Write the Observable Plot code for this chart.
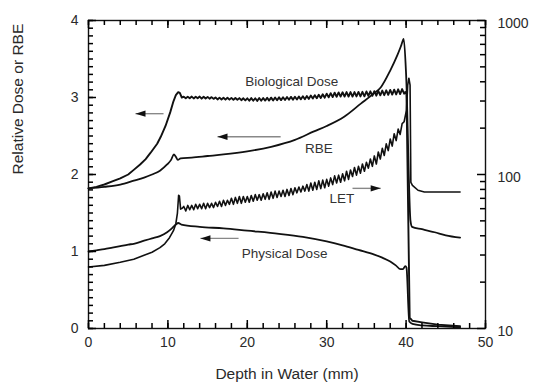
<!DOCTYPE html>
<html><head><meta charset="utf-8">
<script src="https://cdn.jsdelivr.net/npm/d3@7"></script>
<script src="https://cdn.jsdelivr.net/npm/@observablehq/plot@0.6"></script>
<style>html,body{margin:0;padding:0;background:#fff;}</style>
</head><body><div id="chart"></div>
<script>
// ---- axis ticks / labels ----
const xTicks = [0, 10, 20, 30, 40, 50];
const yTicks = [0, 1, 2, 3, 4];
const letTicks = [10, 100, 1000];
const letMinorTicks = [20, 30, 40, 50, 60, 70, 80, 90, 200, 300, 400, 500, 600, 700, 800, 900];
const xLabel = "Depth in Water (mm)";
const yLabel = "Relative Dose or RBE";

// ---- series: [depth (mm), value] ----
const physicalDose = [[0,1.0],[1,1.015],[2,1.03],[3,1.05],[4,1.07],[5,1.09],[5.7,1.1],[7,1.14],[8,1.17],[9,1.2],[9.9,1.25],[10.5,1.3],[11.0,1.35],[11.3,1.37],[11.7,1.35],[14,1.32],[17,1.3],[20,1.27],[24,1.23],[27,1.19],[30,1.13],[32,1.08],[34,1.02],[36,0.96],[37,0.92],[38,0.87],[38.7,0.82],[39.3,0.77],[39.6,0.77],[39.9,0.81],[40.05,0.79],[40.4,0.09],[40.8,0.06],[42,0.04],[44,0.03],[46.8,0.015]];

const biologicalDose = [[0,1.82],[1,1.84],[2,1.87],[3,1.91],[4,1.95],[5,2.0],[5.7,2.06],[6.5,2.13],[7.2,2.2],[7.8,2.28],[8.65,2.4],[9.1,2.49],[9.7,2.63],[10.3,2.81],[10.7,2.95],[11.0,3.03],[11.3,3.07],[11.5,3.06],[11.75,3.0],
[12,3.01],[12.25,2.99],[12.5,3.01],[12.75,2.99],[13,3.012],[13.25,2.988],[13.5,3.01],[13.75,2.99],[14,3.012],[14.25,2.985],[14.5,3.01],[14.75,2.988],[15,3.008],[15.25,2.985],[15.5,3.005],[15.75,2.982],
[16,3.0],[16.25,2.975],[16.5,2.998],[16.75,2.975],[17,2.997],[17.25,2.972],[17.5,2.996],[17.75,2.972],[18,2.995],[18.25,2.97],[18.5,2.994],[18.75,2.97],[19,2.992],[19.25,2.965],[19.5,2.99],[19.75,2.962],
[20,2.99],[20.25,2.958],[20.5,2.992],[20.75,2.958],[21,2.99],[21.25,2.956],[21.5,2.993],[21.75,2.958],[22,2.994],[22.25,2.96],[22.5,2.996],[22.75,2.96],[23,2.998],[23.25,2.962],[23.5,3.0],[23.75,2.964],
[24,3.002],[24.25,2.966],[24.5,3.004],[24.75,2.968],[25,3.006],[25.25,2.97],[25.5,3.008],[25.75,2.972],[26,3.01],[26.25,2.974],[26.5,3.012],[26.75,2.976],[27,3.016],[27.25,2.978],[27.5,3.02],[27.75,2.982],
[28,3.026],[28.25,2.986],[28.5,3.03],[28.75,2.99],[29,3.036],[29.25,2.994],[29.5,3.042],[29.75,2.998],[30,3.05],[30.25,3.002],[30.5,3.056],[30.75,3.006],[31,3.062],[31.25,3.01],[31.5,3.066],[31.75,3.012],
[32,3.068],[32.25,3.012],[32.5,3.07],[32.75,3.012],[33,3.07],[33.25,3.012],[33.5,3.07],[33.75,3.014],[34,3.072],[34.25,3.014],[34.5,3.074],[34.75,3.016],[35,3.078],[35.25,3.02],[35.5,3.08],[35.75,3.022],
[36,3.082],[36.25,3.024],[36.5,3.086],[36.75,3.028],[37,3.09],[37.25,3.03],[37.5,3.094],[37.75,3.034],[38,3.098],[38.25,3.038],[38.5,3.102],[38.75,3.04],[39,3.106],[39.25,3.044],[39.5,3.11],[39.75,3.05],
[39.9,3.07],[40.05,3.04],[40.45,0.14],[40.8,0.1],[42,0.08],[44,0.05],[46.8,0.03]];

const rbe = [[0,1.82],[2,1.84],[4,1.87],[5.7,1.92],[7,1.96],[8,2.0],[9,2.05],[9.9,2.13],[10.4,2.19],[10.75,2.26],[11.0,2.23],[11.25,2.19],[11.6,2.21],[13,2.22],[15,2.24],[17,2.26],[20,2.3],[23,2.36],[26,2.45],[28.4,2.56],[30,2.63],[32.2,2.75],[34.3,2.92],[35.9,3.05],[36.8,3.13],[38,3.35],[38.9,3.55],[39.4,3.68],[39.7,3.76],[40.0,3.3],[40.55,1.4],[40.75,1.32],[42,1.29],[43.6,1.25],[45,1.21],[46.8,1.18]];

// LET in keV/um (right, log axis)
const let_keV = [[0,25.1],[2,25.7],[4,26.9],[5.7,28.2],[7,29.9],[8,31.3],[9,33.5],[9.6,35.5],[10.2,38.9],[10.7,43.2],[11.0,47.9],[11.2,56.2],[11.35,73.3],[11.45,72.4],[11.6,59.6],[11.8,60.3],
[12,62],[12.25,58],[12.5,63],[12.75,59],[13,63],[13.25,59],[13.5,64],[13.75,60],[14,64],[14.25,60],[14.5,65],[14.75,60],[15,65],[15.25,61],[15.5,65],[15.75,61],
[16,66],[16.25,62],[16.5,67],[16.75,62],[17,68],[17.25,63],[17.5,68],[17.75,64],[18,70],[18.25,64],[18.5,71],[18.75,65],[19,72],[19.25,65],[19.5,72],[19.75,66],
[20,72],[20.25,66],[20.5,73],[20.75,67],[21,74],[21.25,68],[21.5,74],[21.75,68],[22,75],[22.25,69],[22.5,76],[22.75,69],[23,77],[23.25,70],[23.5,78],[23.75,71],
[24,78],[24.25,72],[24.5,79],[24.75,72],[25,80],[25.25,73],[25.5,81],[25.75,74],[26,82],[26.25,76],[26.5,83],[26.75,77],[27,84],[27.25,78],[27.5,86],[27.75,78],
[28,88],[28.25,79],[28.5,89],[28.75,80],[29,91],[29.25,81],[29.5,92],[29.75,82],[30,93],[30.25,84],[30.5,95],[30.75,86],[31,98],[31.25,88],[31.5,99],[31.75,89],
[32,101],[32.25,91],[32.5,105],[32.75,93],[33,107],[33.25,97],[33.5,111],[33.75,99],[34,113],[34.25,102],[34.5,117],[34.75,105],[35,120],[35.25,110],[35.5,126],[35.75,113],
[36,132],[36.25,117],[36.5,140],[36.75,126],[37,148],[37.25,133],[37.5,158],[37.75,143],[38,170],[38.25,153],[38.5,184],[38.75,166],[39,197],[39.25,182],[39.5,214],
[39.75,220],[40.05,262],[40.2,380],[40.35,422],[40.5,380],[40.6,89],[40.8,85],[41.5,79],[42.3,77],[46.8,77]];

// ---- annotations (data units) ----
const annotations = [
  {text: "Biological Dose", x: 25.6, y: 3.21},
  {text: "RBE", x: 29.0, y: 2.34},
  {text: "LET", x: 31.9, y: 1.69},
  {text: "Physical Dose", x: 24.7, y: 0.97}
];
const arrows = [
  {x1: 9.45, x2: 5.92, y: 2.79},
  {x1: 24.2, x2: 16.25, y: 2.49},
  {x1: 33.25, x2: 36.8, y: 1.82},
  {x1: 18.9, x2: 14.1, y: 1.17}
];

const ink = "#000";
const textInk = "#2a2a2a";
const W = 534, H = 387, ML = 88, MR = 49, MT = 20, MB = 59;
const xDomain = [0, 50], yDomain = [0, 4];
const toLeft = v => 2 * Math.log10(v / 10);      // LET (log 10..1000) -> left scale 0..4
const fromLeft = y => 10 * Math.pow(10, y / 2);
const yMinor = d3.range(0, 41).map(i => i / 10);
const xMinor = d3.range(0, 26).map(i => i * 2);

// tick lengths (pixels) converted to data units for inward rules
const pxX = (W - ML - MR) / (xDomain[1] - xDomain[0]);
const pxY = (H - MT - MB) / (yDomain[1] - yDomain[0]);
const hx = px => px / pxX, hy = px => px / pxY;
const tickStyle = {stroke: ink, strokeWidth: 1.5};

const chart = Plot.plot({
  width: W, height: H,
  marginLeft: ML, marginRight: MR, marginTop: MT, marginBottom: MB,
  style: {fontFamily: '"Liberation Sans", Arial, Helvetica, sans-serif', fontSize: "14px", color: textInk, background: "#fff"},
  x: {domain: xDomain, axis: null},
  y: {domain: yDomain, axis: null},
  marks: [
    // curves
    Plot.line(physicalDose, {x: d => d[0], y: d => d[1], stroke: "#111", strokeWidth: 1.8, curve: "monotone-x"}),
    Plot.line(rbe, {x: d => d[0], y: d => d[1], stroke: "#111", strokeWidth: 1.8, curve: "monotone-x"}),
    Plot.line(biologicalDose, {x: d => d[0], y: d => d[1], stroke: "#111", strokeWidth: 1.9}),
    Plot.line(let_keV, {x: d => d[0], y: d => toLeft(d[1]), stroke: "#111", strokeWidth: 1.6}),
    // arrows
    Plot.link(arrows, {x1: "x1", x2: "x2", y1: "y", y2: "y", stroke: "#888", strokeWidth: 1.4}),
    Plot.vector(arrows, {x: "x2", y: "y", rotate: d => d.x2 < d.x1 ? -90 : 90, length: 10, r: 3.2, shape: "spike", anchor: "end", fill: "#111", stroke: "none"}),
    // labels
    Plot.text(annotations, {x: "x", y: "y", text: "text", fontSize: 13.5, fill: "#333"}),
    Plot.frame({stroke: "#111", strokeWidth: 1.4}),
    // inward ticks: bottom & top
    Plot.ruleX(xMinor, {x: d => d, y1: yDomain[0], y2: yDomain[0] + hy(5), ...tickStyle}),
    Plot.ruleX(xTicks, {x: d => d, y1: yDomain[0], y2: yDomain[0] + hy(8), ...tickStyle}),
    Plot.ruleX(xMinor, {x: d => d, y1: yDomain[1], y2: yDomain[1] - hy(5), ...tickStyle}),
    Plot.ruleX(xTicks, {x: d => d, y1: yDomain[1], y2: yDomain[1] - hy(8), ...tickStyle}),
    // inward ticks: left & right (log LET)
    Plot.ruleY(yMinor, {y: d => d, x1: xDomain[0], x2: xDomain[0] + hx(5), ...tickStyle}),
    Plot.ruleY(yTicks, {y: d => d, x1: xDomain[0], x2: xDomain[0] + hx(8), ...tickStyle}),
    Plot.ruleY(letMinorTicks, {y: d => toLeft(d), x1: xDomain[1], x2: xDomain[1] - hx(5), ...tickStyle}),
    Plot.ruleY(letTicks, {y: d => toLeft(d), x1: xDomain[1], x2: xDomain[1] - hx(8), ...tickStyle}),
    // tick labels
    Plot.axisX({anchor: "bottom", ticks: xTicks, tickSize: 0, tickPadding: 9, label: null, fontSize: 14, fill: textInk, tickFormat: d => String(d)}),
    Plot.axisY({anchor: "left", ticks: yTicks, tickSize: 0, tickPadding: 10, label: null, fontSize: 14, fill: textInk, tickFormat: d => String(d)}),
    Plot.axisY({anchor: "right", ticks: letTicks.map(toLeft), tickSize: 0, tickPadding: 12, dy: 3, label: null, fontSize: 14, fill: textInk,
      tickFormat: d => String(Math.round(fromLeft(d)))}),
    // axis titles
    Plot.text([xLabel], {frameAnchor: "bottom", dy: 50, text: d => d, fontSize: 15.5, fill: textInk}),
    Plot.text([yLabel], {frameAnchor: "left", dx: -70, rotate: -90, text: d => d, fontSize: 15.5, fill: textInk})
  ]
});
document.getElementById("chart").appendChild(chart);
</script>
</body></html>
